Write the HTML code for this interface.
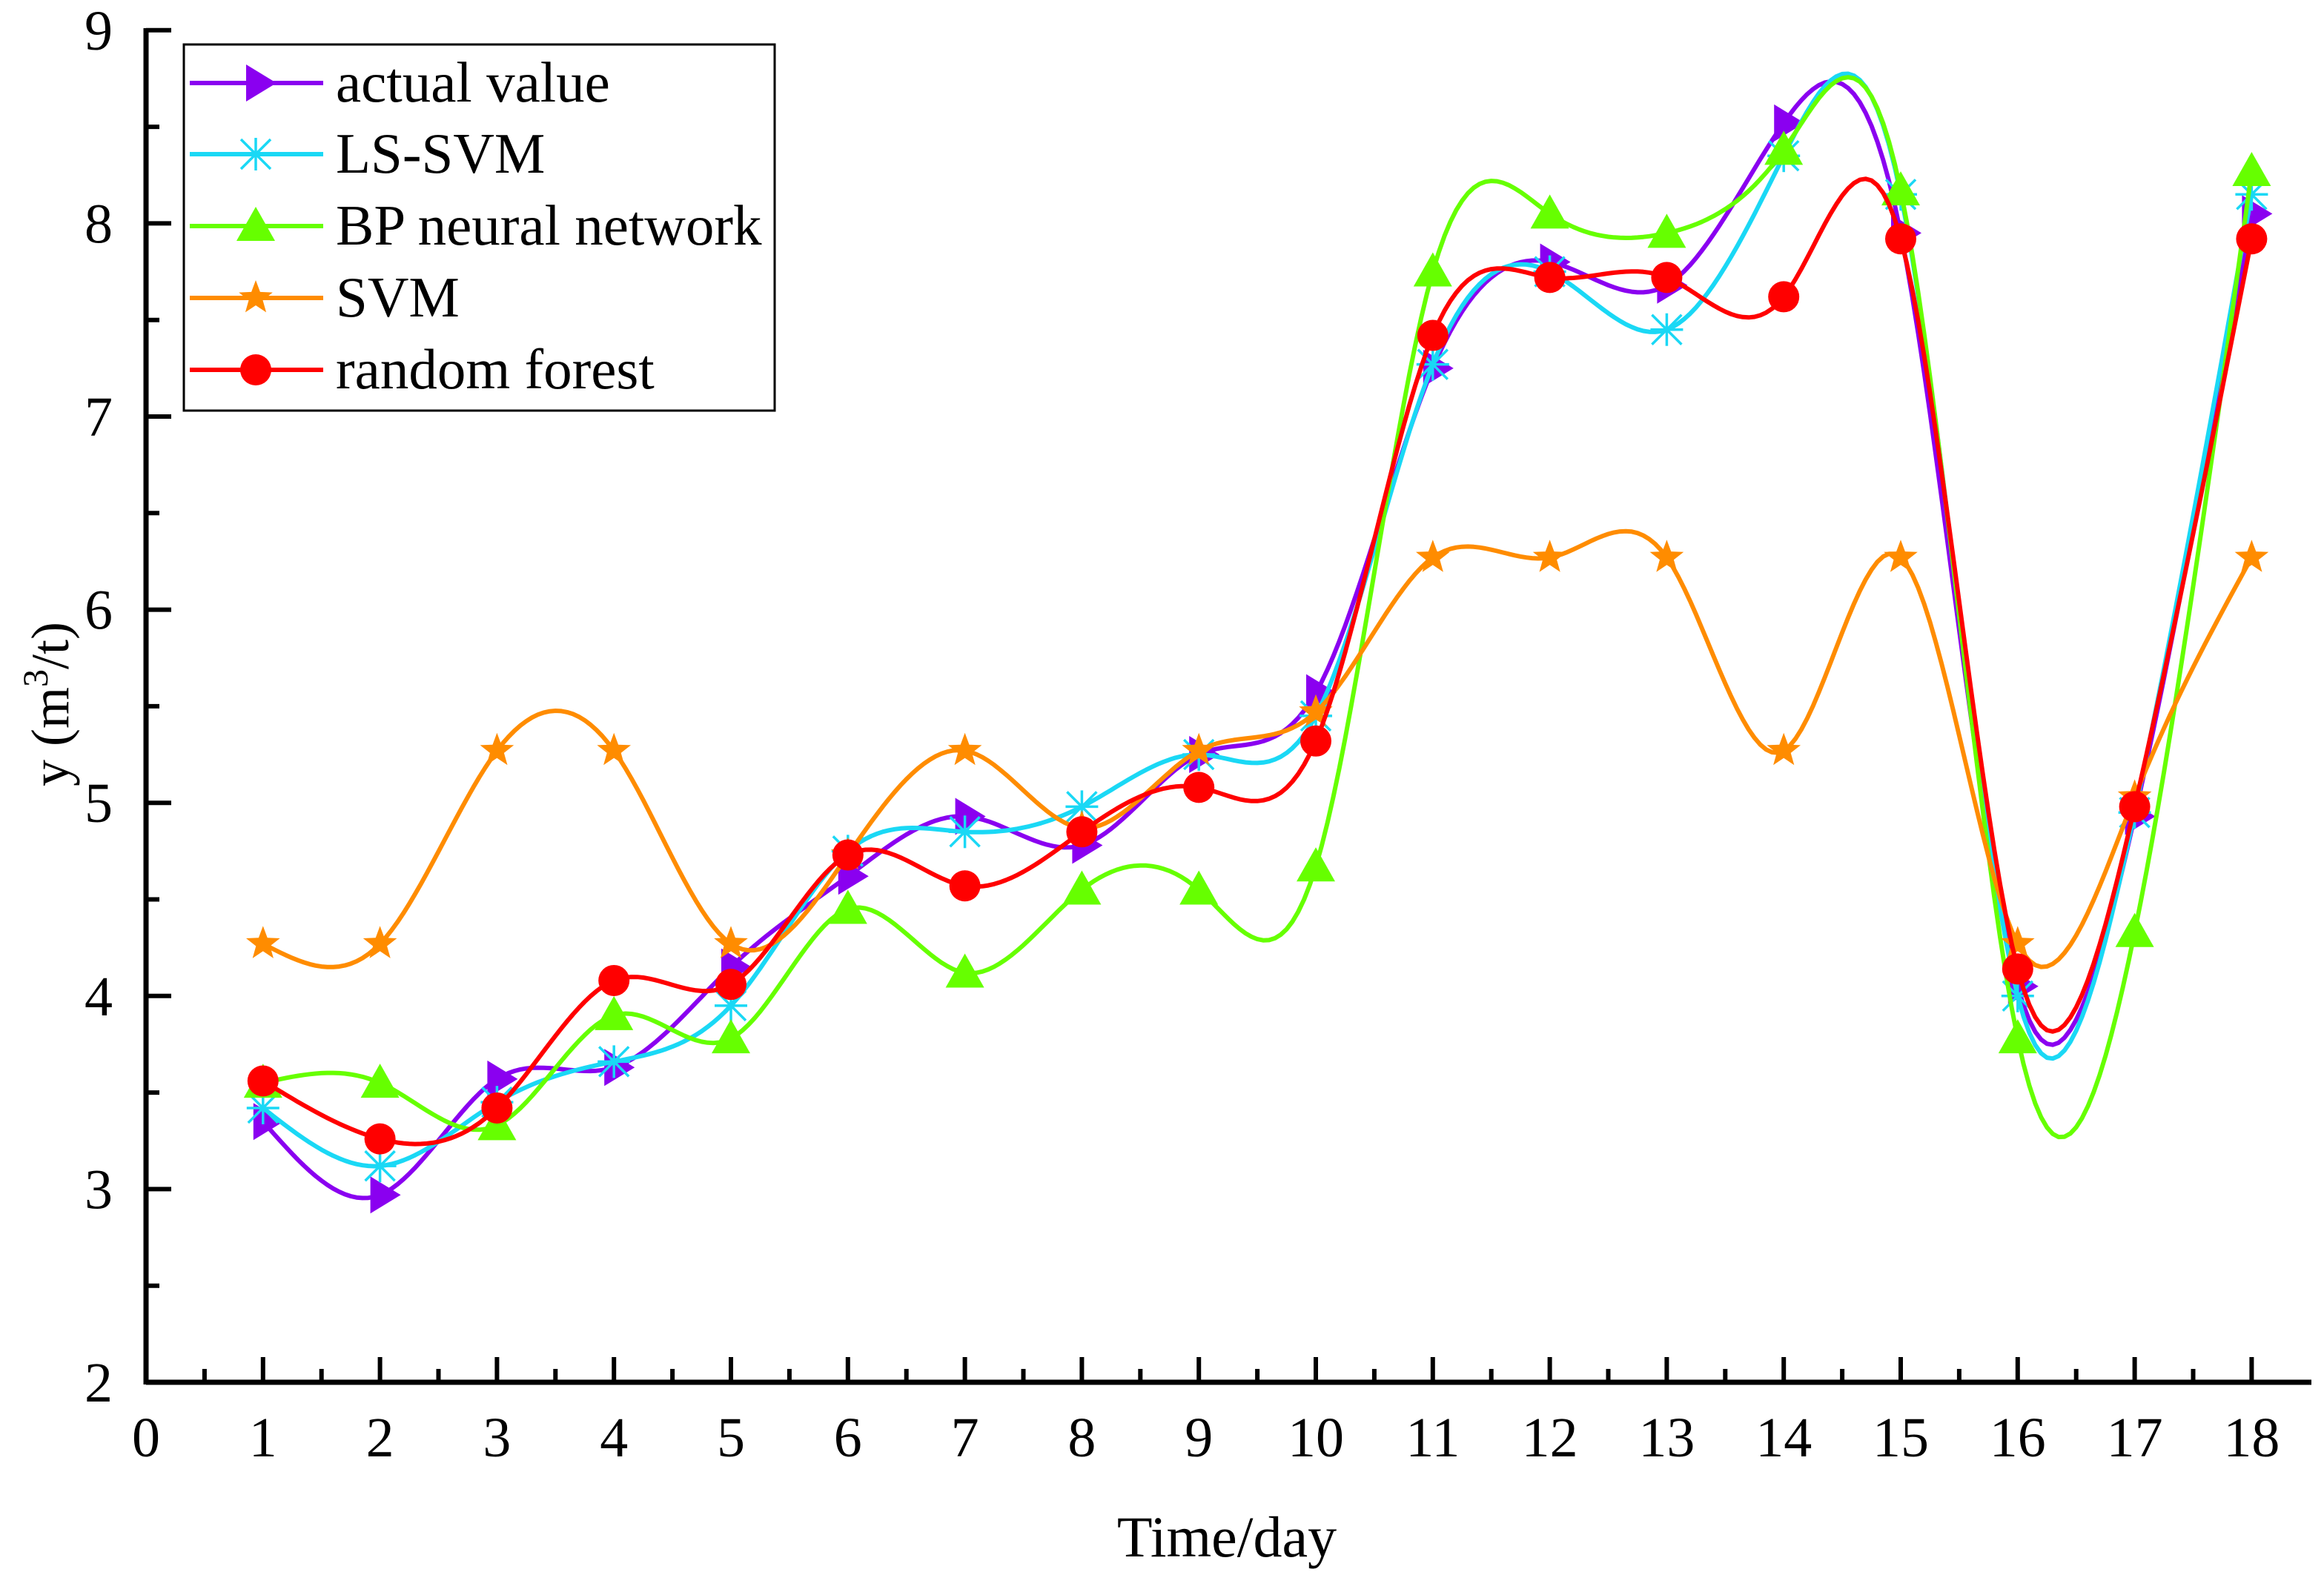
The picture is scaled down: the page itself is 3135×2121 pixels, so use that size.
<!DOCTYPE html>
<html><head><meta charset="utf-8"><style>
html,body{margin:0;padding:0;background:#fff;}
svg{display:block;}
text{font-family:"Liberation Serif","Times New Roman",serif;fill:#000;}
</style></head><body>
<svg id="chart" width="3135" height="2121" viewBox="0 0 3135 2121" xmlns="http://www.w3.org/2000/svg">
<g id="axes"></g>
<g id="series"></g>
<g id="legend"></g>
<text x="1655" y="2100" font-size="78" text-anchor="middle">Time/day</text>
<text transform="translate(92,950) rotate(-90)" font-size="72" text-anchor="middle">y (m<tspan dy="-28" font-size="48">3</tspan><tspan dy="28">/t)</tspan></text>
</svg>
<script>
const days=[1,2,3,4,5,6,7,8,9,10,11,12,13,14,15,16,17,18];
const actualValue=[3.35,2.97,3.57,3.63,4.15,4.62,4.93,4.78,5.25,5.57,7.25,7.8,7.68,8.52,7.95,4.05,4.93,8.05];
const lsSvm=[3.42,3.12,3.45,3.66,3.95,4.75,4.85,4.98,5.25,5.45,7.27,7.75,7.45,8.35,8.15,4.0,4.95,8.15];
const bpNet=[3.55,3.55,3.33,3.9,3.78,4.45,4.12,4.55,4.55,4.67,7.75,8.05,7.95,8.38,8.17,3.78,4.33,8.27];
const svm=[4.27,4.27,5.27,5.27,4.27,4.73,5.27,4.87,5.27,5.47,6.27,6.27,6.27,5.27,6.27,4.27,5.03,6.27];
const randomForest=[3.56,3.26,3.42,4.08,4.06,4.73,4.57,4.85,5.08,5.32,7.42,7.72,7.72,7.62,7.92,4.14,4.98,7.92];
const xTicks=[0,1,2,3,4,5,6,7,8,9,10,11,12,13,14,15,16,17,18];
const yTicks=[2,3,4,5,6,7,8,9];
const seriesNames=["actual value","LS-SVM","BP neural network","SVM","random forest"];

const NS="http://www.w3.org/2000/svg";
const X0=197,XS=157.8,Y2=1865,YS=260.6;
function xs(v){return X0+v*XS;}
function ys(v){return Y2-(v-2)*YS;}
function mk(tag,attrs,parent){const e=document.createElementNS(NS,tag);for(const k in attrs)e.setAttribute(k,attrs[k]);parent.appendChild(e);return e;}
const axes=document.getElementById('axes');
const ser=document.getElementById('series');
const leg=document.getElementById('legend');

let ax=mk('line',{x1:X0,y1:Y2,x2:3118,y2:Y2,stroke:'#000','stroke-width':7},axes);


let ay=mk('line',{x1:X0,y1:Y2+3,x2:X0,y2:38,stroke:'#000','stroke-width':7},axes);


xTicks.forEach(t=>{
  const tk=mk('line',{x1:xs(t),y1:Y2,x2:xs(t),y2:Y2-34,stroke:'#000','stroke-width':6},axes);
  
  
  if(t<18){const m=mk('line',{x1:xs(t+0.5),y1:Y2,x2:xs(t+0.5),y2:Y2-18,stroke:'#000','stroke-width':6},axes);
  
  }
  const lb=mk('text',{x:xs(t),y:Y2+100,'font-size':76,'text-anchor':'middle'},axes);lb.textContent=t;
  
  
});
yTicks.forEach(t=>{
  const tk=mk('line',{x1:X0,y1:ys(t),x2:X0+34,y2:ys(t),stroke:'#000','stroke-width':6},axes);
  
  
  if(t<9){const m=mk('line',{x1:X0,y1:ys(t+0.5),x2:X0+18,y2:ys(t+0.5),stroke:'#000','stroke-width':6},axes);
  
  }
  const lb=mk('text',{x:X0-45,y:ys(t)+26,'font-size':76,'text-anchor':'end'},axes);lb.textContent=t;
  
  
});

function spline(xv,yv){
  const n=xv.length,h=[],a=[],l=[1],mu=[0],z=[0],c=new Array(n).fill(0),b=[],d=[];
  for(let i=0;i<n-1;i++)h.push(xv[i+1]-xv[i]);
  for(let i=1;i<n-1;i++)a[i]=3/h[i]*(yv[i+1]-yv[i])-3/h[i-1]*(yv[i]-yv[i-1]);
  for(let i=1;i<n-1;i++){l[i]=2*(xv[i+1]-xv[i-1])-h[i-1]*mu[i-1];mu[i]=h[i]/l[i];z[i]=(a[i]-h[i-1]*z[i-1])/l[i];}
  for(let j=n-2;j>=0;j--){c[j]=z[j]-mu[j]*c[j+1];b[j]=(yv[j+1]-yv[j])/h[j]-h[j]*(c[j+1]+2*c[j])/3;d[j]=(c[j+1]-c[j])/(3*h[j]);}
  let p='';
  for(let i=0;i<n-1;i++)for(let s=0;s<=20;s++){if(i>0&&s==0)continue;const t=h[i]*s/20;
    const v=yv[i]+b[i]*t+c[i]*t*t+d[i]*t*t*t;p+=(p?'L':'M')+xs(xv[i]+t).toFixed(1)+','+ys(v).toFixed(1);}
  return p;
}
function marker(type,cx,cy,color,parent){
  let e;
  if(type==='tri-right'){e=mk('polygon',{points:`${cx-13},${cy-25} ${cx+28},${cy} ${cx-13},${cy+25}`,fill:color},parent);}
  else if(type==='tri-up'){e=mk('polygon',{points:`${cx},${cy-26} ${cx+26},${cy+20} ${cx-26},${cy+20}`,fill:color},parent);}
  else if(type==='circle'){e=mk('circle',{cx:cx,cy:cy,r:21,fill:color},parent);}
  else if(type==='star'){let pts=[];for(let k=0;k<10;k++){const r=k%2?10:24,a=-Math.PI/2+k*Math.PI/5;pts.push((cx+r*Math.cos(a)).toFixed(1)+','+(cy+r*Math.sin(a)).toFixed(1));}
    e=mk('polygon',{points:pts.join(' '),fill:color},parent);}
  else {e=mk('g',{stroke:color,'stroke-width':3.5},parent);
    mk('line',{x1:cx-22,y1:cy,x2:cx+22,y2:cy},e);mk('line',{x1:cx,y1:cy-22,x2:cx,y2:cy+22},e);
    mk('line',{x1:cx-20,y1:cy-20,x2:cx+20,y2:cy+20},e);mk('line',{x1:cx-20,y1:cy+20,x2:cx+20,y2:cy-20},e);}
  return e;
}
const allData=[actualValue,lsSvm,bpNet,svm,randomForest];
const colors=['#8A00F0','#1AD8F5','#66FF00','#FF8C00','#FF0000'];
const markers=['tri-right','asterisk','tri-up','star','circle'];
const keys=['actual-value','ls-svm','bp-neural-network','svm','random-forest'];
allData.forEach((vals,i)=>{
  const g=mk('g',{},ser);
  
  
  const p=mk('path',{d:spline(days,vals),fill:'none',stroke:colors[i],'stroke-width':6,'stroke-linejoin':'round'},g);
  
  
  vals.forEach((v,j)=>{
    const m=marker(markers[i],xs(days[j]),ys(v),colors[i],g);
    
    
  });
});
const box=mk('rect',{x:248,y:60,width:797,height:494,fill:'#fff',stroke:'#000','stroke-width':3},leg);


const rows=[112,208,305,402,499];
seriesNames.forEach((nm,i)=>{
  const g=mk('g',{},leg);
  
  
  mk('line',{x1:256,y1:rows[i],x2:436,y2:rows[i],stroke:colors[i],'stroke-width':6},g);
  marker(markers[i],345,rows[i],colors[i],g);
  const t=mk('text',{x:453,y:rows[i]+25,'font-size':77},g);t.textContent=nm;
});
</script>
</body></html>
